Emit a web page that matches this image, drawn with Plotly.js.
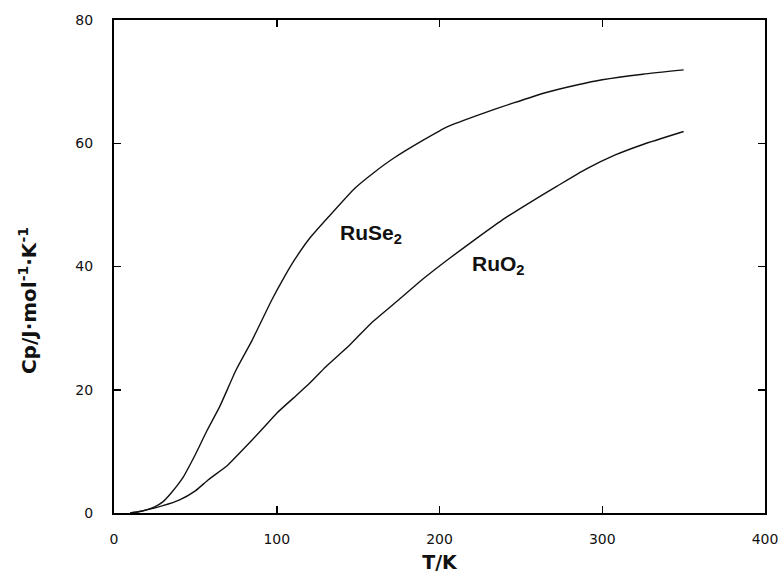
<!DOCTYPE html>
<html>
<head>
<meta charset="utf-8">
<script src="https://cdn.plot.ly/plotly-3.0.1.min.js"></script>
<style>html,body{margin:0;padding:0;background:#fff}#chart{width:779px;height:574px}</style>
</head>
<body>
<div id="chart"></div>
<script>
// RuSe2 heat capacity
const tRuSe2 = [10,15,20,25,30,35,42,50,57,65,75,85,97,104,111,120,132,148,160,172,190,205,225,245,265,285,300,325,350];
const cpRuSe2 = [0,0.2,0.5,1.0,1.8,3.2,5.6,9.5,13.3,17.3,23.2,28.1,34.6,38,41.1,44.5,48.1,52.7,55.3,57.6,60.5,62.7,64.7,66.5,68.2,69.5,70.3,71.2,71.9];
// RuO2 heat capacity
const tRuO2 = [10,15,20,30,40,50,58,70,80,90,100,110,120,130,145,158,175,190,205,223,240,255,272,290,308,325,350];
const cpRuO2 = [0,0.2,0.5,1.2,2.1,3.6,5.4,7.8,10.5,13.3,16.2,18.6,21,23.7,27.3,30.8,34.6,38,41.1,44.6,47.8,50.3,53,55.8,58.1,59.8,61.9];
// curve labels
const labelText = ["RuSe<sub>2</sub>", "RuO<sub>2</sub>"];
const labelT = [158, 236];
const labelCp = [45.3, 40.3];
const xTicks = [0,100,200,300,400];
const yTicks = [0,20,40,60,80];

const line = {color:'#111', width:1.4, shape:'spline', smoothing:0.5};
const traces = [
  {x:tRuSe2, y:cpRuSe2, mode:'lines', line:line, name:'RuSe2'},
  {x:tRuO2, y:cpRuO2, mode:'lines', line:line, name:'RuO2'}
];
const annotations = labelText.map((t,i)=>({
  x:labelT[i], y:labelCp[i], xref:'x', yref:'y', text:t, showarrow:false,
  font:{family:'Liberation Sans, Arial, sans-serif', size:21, color:'#111', weight:'bold'}
}));
annotations.push({
  xref:'paper', yref:'paper', x:-0.132, y:0.43, xanchor:'center', yanchor:'middle',
  textangle:-90, showarrow:false,
  text:'Cp/J·mol<sup>-1</sup>·K<sup>-1</sup>',
  font:{family:'DejaVu Sans, sans-serif', size:20, color:'#111', weight:'bold'}
});
const axisCommon = {
  showline:true, linecolor:'#000', linewidth:2, mirror:'ticks',
  ticks:'inside', ticklen:7, tickwidth:1.5, tickcolor:'#000',
  showgrid:false, zeroline:false, ticklabeloverflow:'allow',
  tickfont:{family:'DejaVu Sans, sans-serif', size:14, color:'#111'}
};
const layout = {
  width:779, height:574,
  margin:{l:114, r:14, t:20, b:61},
  paper_bgcolor:'#fff', plot_bgcolor:'#fff',
  showlegend:false,
  xaxis:Object.assign({}, axisCommon, {
    range:[0,400], tickvals:xTicks, ticktext:xTicks.map(String), ticklabelstandoff:12,
    title:{text:'T/K', standoff:10, font:{family:'DejaVu Sans, sans-serif', size:19, color:'#111', weight:'bold'}}
  }),
  yaxis:Object.assign({}, axisCommon, {
    range:[0,80], tickvals:yTicks, ticktext:yTicks.map(String), ticklabelstandoff:16
  }),
  annotations:annotations
};
Plotly.newPlot('chart', traces, layout, {displayModeBar:false, staticPlot:true});
</script>
</body>
</html>
